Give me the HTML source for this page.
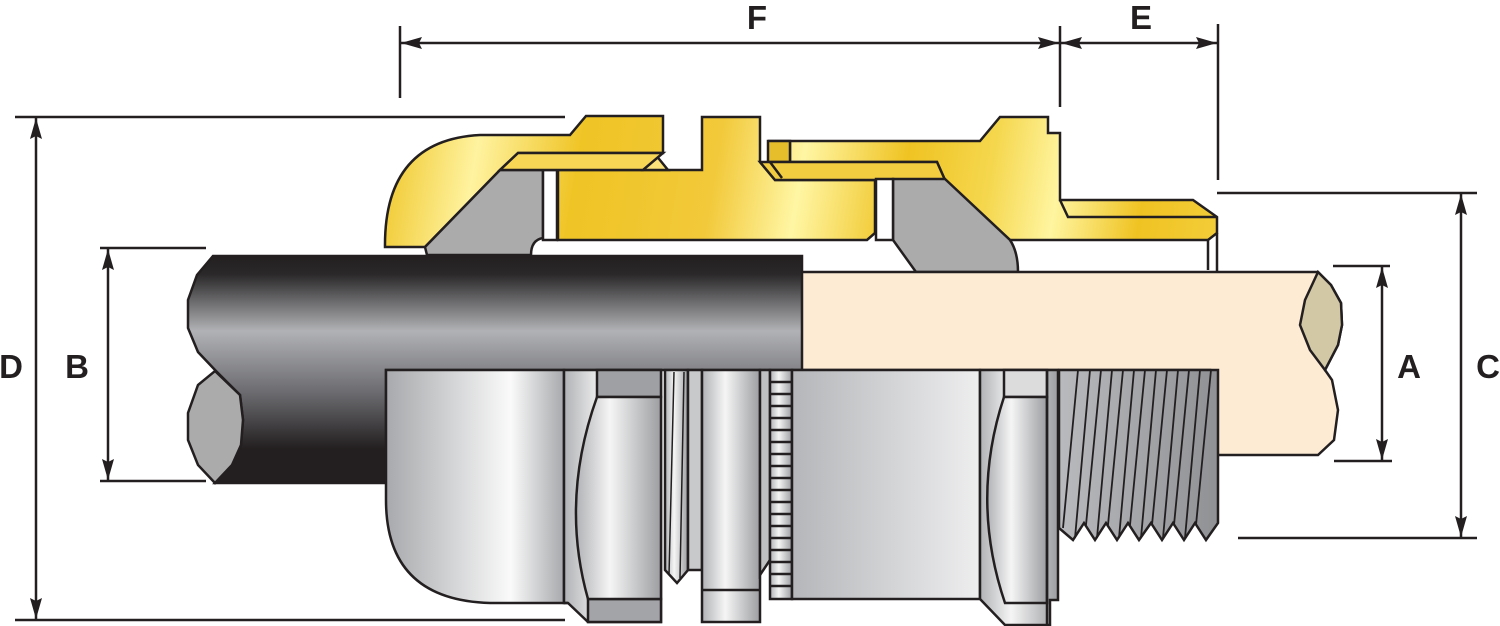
<!DOCTYPE html>
<html><head><meta charset="utf-8"><style>html,body{margin:0;padding:0;background:#fff}svg{display:block}</style></head>
<body>
<svg width="1500" height="626" viewBox="0 0 1500 626" xmlns="http://www.w3.org/2000/svg">
<defs>
<linearGradient id="gold" gradientUnits="userSpaceOnUse" x1="380" y1="110" x2="1220" y2="250">
<stop offset="0" stop-color="#eec21e"/><stop offset="0.12" stop-color="#fff3a0"/><stop offset="0.24" stop-color="#efc425"/>
<stop offset="0.4" stop-color="#f2c93a"/><stop offset="0.5" stop-color="#fff6a4"/><stop offset="0.62" stop-color="#efc322"/>
<stop offset="0.72" stop-color="#f5d74e"/><stop offset="0.8" stop-color="#fff5a0"/><stop offset="0.9" stop-color="#efc322"/><stop offset="1" stop-color="#f3cd3a"/>
</linearGradient>
<linearGradient id="cable" x1="0" y1="0" x2="0" y2="1">
<stop offset="0" stop-color="#231f20"/><stop offset="0.08" stop-color="#2a2829"/><stop offset="0.33" stop-color="#b1b2b5"/>
<stop offset="0.6" stop-color="#6c6c70"/><stop offset="0.85" stop-color="#231f20"/><stop offset="1" stop-color="#231f20"/>
</linearGradient>
<linearGradient id="metal" x1="0" y1="0" x2="1" y2="0">
<stop offset="0" stop-color="#a7a9ac"/><stop offset="0.7" stop-color="#fafafa"/><stop offset="1" stop-color="#a7a9ac"/>
</linearGradient>
<linearGradient id="metal2" x1="0" y1="0" x2="1" y2="0">
<stop offset="0" stop-color="#b0b2b5"/><stop offset="0.4" stop-color="#f5f5f5"/><stop offset="1" stop-color="#9c9ea1"/>
</linearGradient>
<linearGradient id="body" x1="0" y1="0" x2="1" y2="0">
<stop offset="0" stop-color="#b4b6b9"/><stop offset="1" stop-color="#eeeeef"/>
</linearGradient>
<linearGradient id="thread" x1="0" y1="0" x2="1" y2="0">
<stop offset="0" stop-color="#b8babd"/><stop offset="1" stop-color="#8f9194"/>
</linearGradient>
</defs>
<g stroke="#231f20" stroke-width="2.5" stroke-linejoin="miter">

<g fill="#231f20">
<line x1="400" y1="26" x2="400" y2="98"/><line x1="1060" y1="26" x2="1060" y2="107"/><line x1="1218" y1="24" x2="1218" y2="180"/>
<line x1="400" y1="43" x2="1218" y2="43"/>
<path d="M401,43 L422,37 L419,43 L422,49Z" stroke="none"/>
<path d="M1059,43 L1038,37 L1041,43 L1038,49Z" stroke="none"/>
<path d="M1061,43 L1082,37 L1079,43 L1082,49Z" stroke="none"/>
<path d="M1217,43 L1196,37 L1199,43 L1196,49Z" stroke="none"/>

<line x1="15" y1="117" x2="565" y2="117"/><line x1="15" y1="620" x2="565" y2="620"/>
<line x1="36" y1="117" x2="36" y2="620"/>
<path d="M36,118 L30,139 L36,136 L42,139Z" stroke="none"/>
<path d="M36,619 L30,598 L36,601 L42,598Z" stroke="none"/>

<line x1="100" y1="248" x2="206" y2="248"/><line x1="100" y1="481" x2="206" y2="481"/>
<line x1="108" y1="248" x2="108" y2="481"/>
<path d="M108,249 L102,270 L108,267 L114,270Z" stroke="none"/>
<path d="M108,480 L102,459 L108,462 L114,459Z" stroke="none"/>

<line x1="1333" y1="266" x2="1390" y2="266"/><line x1="1334" y1="461" x2="1392" y2="461"/>
<line x1="1382" y1="266" x2="1382" y2="461"/>
<path d="M1382,267 L1376,288 L1382,285 L1388,288Z" stroke="none"/>
<path d="M1382,460 L1376,439 L1382,442 L1388,439Z" stroke="none"/>

<line x1="1217" y1="193" x2="1477" y2="193"/><line x1="1238" y1="538" x2="1477" y2="538"/>
<line x1="1461" y1="193" x2="1461" y2="538"/>
<path d="M1461,194 L1455,215 L1461,212 L1467,215Z" stroke="none"/>
<path d="M1461,537 L1455,516 L1461,519 L1467,516Z" stroke="none"/>
</g>
<g font-family="Liberation Sans, sans-serif" font-weight="bold" font-size="33" fill="#231f20" stroke="none" text-anchor="middle">
<text x="757" y="29">F</text><text x="1141" y="29">E</text>
<text x="11" y="378">D</text><text x="77" y="378">B</text>
<text x="1409" y="378">A</text><text x="1488" y="378">C</text>
</g>

<path d="M385,247 Q384,140 480,135 L570,135 L586,116 L663,116 L663,153 L518,153 L500,170 L425,247 Z" fill="url(#gold)"/>
<path d="M500,170 L543,170 L543,238 Q531,240 531,255 L427,255 L425,247 Z" fill="#ababab"/>
<rect x="543" y="170" width="14" height="70" fill="#fff"/>
<path d="M558,170 L702,170 L702,117 L760,117 L760,162 L775,180 L875,180 L875,233 L867,240 L558,240 Z" fill="url(#gold)"/>
<path d="M643,170 L655,154 L668,170 Z" fill="#fbe27a"/>
<path d="M518,153 L663,153 L643,170 L500,170 Z" fill="#f7d555"/>
<path d="M768,141 L980,141 L1000,117 L1048,117 L1048,133 L1060,133 L1060,200 L1193,200 L1217,217 L1217,233 L1208,240 L1010,240 L945,180 L937,162 L790,162 L790,141 Z" fill="url(#gold)"/>
<path d="M768,141 L790,141 L790,162 L768,162 Z" fill="#e6bd2a"/>
<path d="M760,162 L937,162 L945,180 L775,180 Z" fill="#f2cd40"/>
<path d="M770,162 L782,178" fill="none"/>
<path d="M1060,200 L1068,217 L1217,217" fill="none"/>
<path d="M893,179 L945,179 L1010,240 Q1018,252 1018,272 L916,272 L893,240 Z" fill="#ababab"/>
<rect x="876" y="179" width="17" height="61" fill="#fff"/>
<line x1="1208" y1="240" x2="1208" y2="270"/><line x1="1217" y1="233" x2="1217" y2="272"/>

<path d="M800,272 L1318,272 L1331,285 L1341,303 L1342,325 L1338,345 L1325,370 L1332,380 L1338,410 L1334,440 L1318,455 L1210,455 L1210,370 L800,370 Z" fill="#fdebd4"/>
<path d="M1318,272 L1331,285 L1341,303 L1342,325 L1338,345 L1325,370 L1310,350 L1300,325 L1305,300 Z" fill="#d2c8a5"/>

<path d="M213,256 L802,256 L802,370 L386,370 L386,483 L215,483 L232,465 L241,445 L243,420 L240,395 L216,371 L198,352 L188,328 L188,300 L197,275 Z" fill="url(#cable)"/>
<path d="M215,371 L240,395 L243,420 L241,445 L232,465 L215,483 L198,465 L188,440 L188,413 L198,385 Z" fill="#ababab"/>

<path d="M386,370 L564,370 L564,603 L490,603 Q386,600 386,500 Z" fill="url(#metal)"/>
<path d="M564,370 L661,370 L661,622 L588,622 L568,603 L564,603 Z" fill="url(#metal2)"/>
<rect x="597" y="370" width="64" height="27" fill="#9ea0a3"/>
<rect x="588" y="599" width="73" height="23" fill="#a2a4a7"/>
<path d="M597,397 L661,397 L661,599 L588,599 Q560,500 597,397 Z" fill="url(#metal2)"/>
<line x1="564" y1="603" x2="568" y2="603"/>
<path d="M665,370 L688,370 L688,570 L677,583 L665,570 Z" fill="url(#metal2)"/>
<path d="M674,372 L669,575 M684,372 L680,578" fill="none" stroke-width="1.5"/>
<rect x="688" y="370" width="14" height="200" fill="#c8c9cb"/>
<rect x="702" y="370" width="58" height="252" fill="url(#metal2)"/>
<line x1="702" y1="590" x2="760" y2="590"/>
<path d="M760,370 L770,370 L770,560 L760,575 Z" fill="#bfc0c2"/>
<rect x="770" y="370" width="22" height="229" fill="url(#metal2)"/>
<path d="M770,382h22M770,394h22M770,406h22M770,418h22M770,430h22M770,442h22M770,454h22M770,466h22M770,478h22M770,490h22M770,502h22M770,514h22M770,526h22M770,538h22M770,550h22M770,562h22M770,574h22M770,586h22" fill="none" stroke-width="2.5"/>
<rect x="792" y="370" width="188" height="229" fill="url(#body)"/>
<path d="M980,370 L1058,370 L1058,600 L1050,600 L1050,625 L1005,625 L980,599 Z" fill="url(#metal2)"/>
<rect x="1004" y="370" width="43" height="27" fill="#dcdcdd"/>
<path d="M1004,397 L1047,397 L1047,603 L1005,603 Q970,500 1004,397 Z" fill="url(#metal2)"/>
<line x1="1047" y1="370" x2="1047" y2="625"/>
<path d="M1059,370 L1218,370 L1218,523 L1206,540 L1195,523 L1184,540 L1173,523 L1162,540 L1151,523 L1139,540 L1128,523 L1117,540 L1106,523 L1095,540 L1084,523 L1073,540 L1059,528 Z" fill="url(#thread)"/>
<path d="M1078,370 L1063,528 M1090,370 L1075,538 M1101,370 L1086,525 M1112,370 L1097,538 M1123,370 L1108,525 M1134,370 L1119,538 M1145,370 L1130,525 M1156,370 L1141,538 M1167,370 L1152,525 M1178,370 L1163,538 M1189,370 L1174,525 M1200,370 L1185,538 M1211,370 L1196,525" fill="none" stroke-width="1.8"/>
</g>
</svg>
</body></html>
